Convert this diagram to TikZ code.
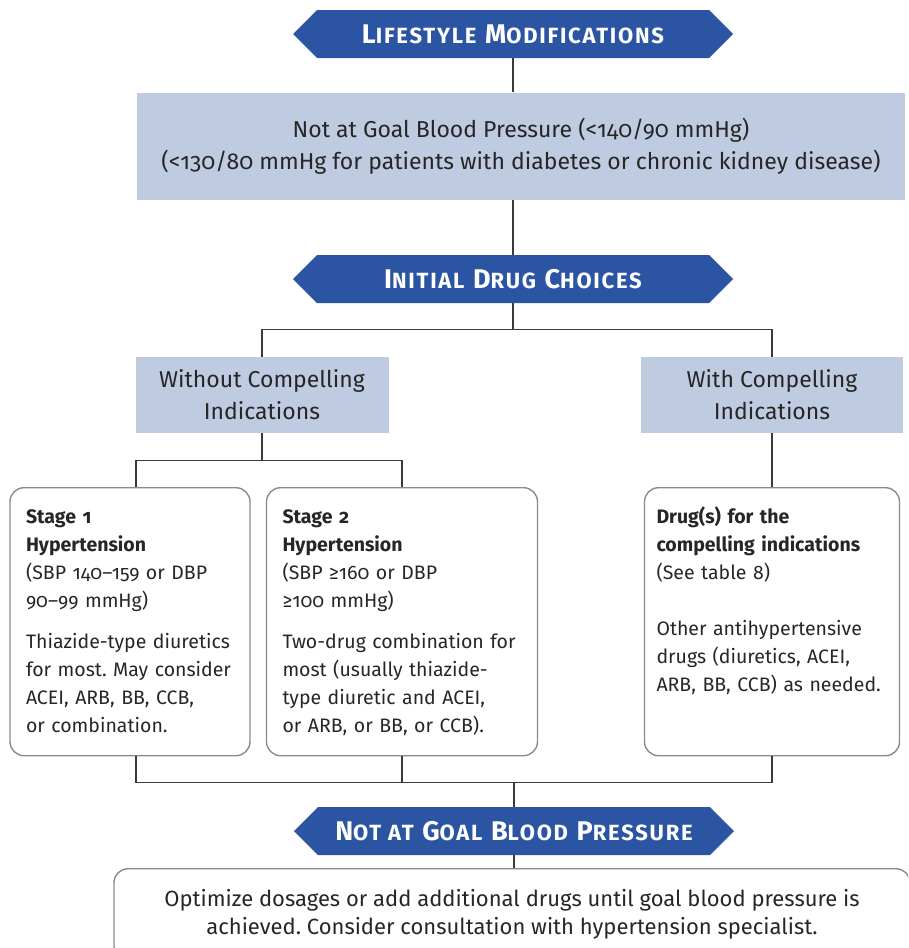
\documentclass[tikz,border=0pt]{standalone}
\usepackage{fontspec}
\setmainfont{Fira Sans}[Numbers=OldStyle]
\newfontfamily\bannerfont{Fira Sans}[LetterSpace=8]
\usetikzlibrary{shapes.symbols}
\definecolor{bannerblue}{HTML}{2B55A3}
\definecolor{paleblue}{HTML}{BFCBE1}
\definecolor{linegray}{HTML}{3A3A3A}
\definecolor{boxgray}{HTML}{8A8A8A}
\newcommand\smcap[1]{{\fontsize{22}{22}\selectfont #1}}
\frenchspacing
\tikzset{
  banner/.style={signal, signal to=west and east, signal pointer angle=90, fill=bannerblue, text=white,
    font=\bannerfont\fontsize{27}{27}\selectfont\bfseries, minimum width=440pt, minimum height=48pt, inner sep=0pt},
  palebox/.style={fill=paleblue, align=center, text=black!85, font=\fontsize{23}{32}\selectfont, inner sep=0pt},
  roundbox/.style={draw=boxgray, line width=1.4pt, rounded corners=14pt, align=left, text=black!85,
    font=\fontsize{19.5}{28}\selectfont, inner xsep=16pt, inner ysep=14pt, text height=22pt, text depth=218pt, anchor=north},
  link/.style={draw=linegray, line width=1.3pt}
}
\begin{document}
\begin{tikzpicture}[x=1pt, y=-1pt]
  \clip (0,0) rectangle (908,948);
  \node[banner] (b1) at (513,34) {L\smcap{IFESTYLE} M\smcap{ODIFICATIONS}};
  \node[palebox, minimum width=768pt, minimum height=107pt] (nb) at (521,146)
    {Not at Goal Blood Pressure (<140/90 mmHg)\\(<130/80 mmHg for patients with diabetes or chronic kidney disease)};
  \node[banner] (b2) at (513,279) {I\smcap{NITIAL} D\smcap{RUG} C\smcap{HOICES}};
  \node[palebox, minimum width=253pt, minimum height=76pt] (wo) at (262,395) {Without Compelling\\Indications};
  \node[palebox, minimum width=262pt, minimum height=76pt] (wi) at (772,395) {With Compelling\\Indications};
  % stage boxes
  \node[roundbox, text width=208pt] (s1) at (130,487)
    {\textbf{Stage 1}\\\textbf{Hypertension}\\(SBP 140--159 or DBP\\90--99 mmHg)\\[13pt]
     Thiazide-type diuretics\\for most. May consider\\ACEI, ARB, BB, CCB,\\or combination.};
  \node[roundbox, text width=239pt] (s2) at (402,487)
    {\textbf{Stage 2}\\\textbf{Hypertension}\\(SBP ≥160 or DBP\\≥100 mmHg)\\[13pt]
     Two-drug combination for\\most (usually thiazide-\\type diuretic and ACEI,\\or ARB, or BB, or CCB).};
  \node[roundbox, text width=231pt, inner xsep=12pt] (dr) at (772,487)
    {\textbf{Drug(s) for the}\\\textbf{compelling indications}\\(See table 8)\\[28pt]
     Other antihypertensive\\drugs (diuretics, ACEI,\\ARB, BB, CCB) as needed.};
  \node[banner] (b3) at (514,831) {N\smcap{OT AT} G\smcap{OAL} B\smcap{LOOD} P\smcap{RESSURE}};
  \node[draw=boxgray, line width=1.4pt, rounded corners=14pt, align=center, text=black!85, anchor=north,
    font=\fontsize{22}{28}\selectfont, minimum width=796pt, minimum height=92pt] (fin) at (512,868)
    {Optimize dosages or add additional drugs until goal blood pressure is\\achieved. Consider consultation with hypertension specialist.};
  % connectors
  \draw[link] (b1.south) -- (b1.south |- nb.north);
  \draw[link] (b2.north |- nb.south) -- (b2.north);
  \draw[link] (b2.south) -- ++(0,26) coordinate (split);
  \draw[link] (wo.north) |- (split) -| (wi.north);
  \draw[link] (wo.south) -- ++(0,27) coordinate (wsplit);
  \draw[link] ([xshift=6pt]s1.north) |- (wsplit) -| (s2.north);
  \draw[link] (wi.south) -- (dr.north);
  \draw[link] ([xshift=6pt]s1.south) -- ++(0,26) coordinate (join) -| (dr.south);
  \draw[link] (s2.south) -- ++(0,26);
  \draw[link] (b3.north) -- (b3.north |- join);
  \draw[link] (b3.south) -- (b3.south |- fin.north);
\end{tikzpicture}
\end{document}
